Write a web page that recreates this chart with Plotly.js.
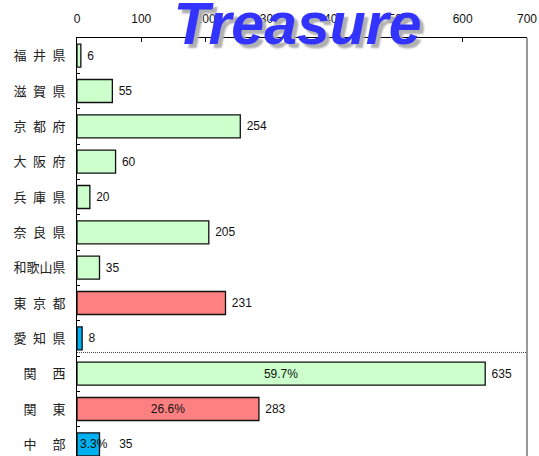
<!DOCTYPE html>
<html>
<head>
<meta charset="utf-8">
<script src="https://cdn.plot.ly/plotly-3.0.1.min.js"></script>
<style>
html,body{margin:0;padding:0;overflow:hidden;background:#fff;}
#chart{width:539px;height:470px;}
</style>
</head>
<body>
<div id="chart"></div>
<script>
const categories = ["福\u2002井\u2002県","滋\u2002賀\u2002県","京\u2002都\u2002府","大\u2002阪\u2002府","兵\u2002庫\u2002県","奈\u2002良\u2002県","和歌山県","東\u2002京\u2002都","愛\u2002知\u2002県","関 　西","関 　東","中 　部"];
const values = [6,55,254,60,20,205,35,231,8,635,283,35];
const groups = ["kansai","kansai","kansai","kansai","kansai","kansai","kansai","kanto","chubu","kansai","kanto","chubu"];
const shares = ["","","","","","","","","","59.7%","26.6%","3.3%"];
const shareAnchor = ["","","","","","","","","","middle","middle","start"];
const xTicks = [0,100,200,300,400,500,600,700];

const colorMap = {kansai:"#ccffcc", kanto:"#ff8080", chubu:"#00b0f0"};
const colors = groups.map(g => colorMap[g]);
// value labels: leave room after a share label that spills out of a short bar
const valueText = values.map((v,i) => (shareAnchor[i] === "start" ? "\u00a0".repeat(5) : "\u00a0") + v);

const traces = [
  {
    type:"bar", orientation:"h",
    x: values, y: categories,
    marker:{color:colors, line:{color:"#111", width:1.3}},
    text: valueText, texttemplate:"%{text}", textposition:"outside", cliponaxis:false,
    textfont:{family:"Liberation Sans, Arial, sans-serif", size:12, color:"#111"},
    hoverinfo:"x+y"
  }
];
["middle","start"].forEach(anchor => {
  traces.push({
    type:"bar", orientation:"h",
    x: values, y: categories,
    marker:{color:"rgba(0,0,0,0)", line:{width:0}},
    text: shares.map((s,i) => shareAnchor[i] === anchor ? s : ""),
    textposition:"inside", insidetextanchor:anchor,
    constraintext:"none", textangle:0, cliponaxis:false,
    textfont:{family:"Liberation Sans, Arial, sans-serif", size:12, color:"#111"},
    hoverinfo:"skip"
  });
});

const layout = {
  width:539, height:470,
  margin:{l:77, r:12, t:38, b:8},
  paper_bgcolor:"#fff", plot_bgcolor:"#fff",
  showlegend:false,
  barmode:"overlay",
  bargap:0.35,
  title:{
    text:"<b><i>Treasure</i></b>",
    font:{family:"Liberation Sans, Arial, sans-serif", size:59, color:"#3333ff", shadow:"4px 4px 2px #b0b0b0"},
    xref:"paper", x:0.49, xanchor:"center",
    yref:"container", y:0.95, yanchor:"middle"
  },
  xaxis:{
    side:"top", range:[0,700], tickvals:xTicks, ticktext:xTicks.map(String),
    showgrid:false, zeroline:false,
    showline:true, linecolor:"#000", linewidth:1,
    ticks:"inside", ticklen:4, tickcolor:"#000",
    ticklabelstandoff:9,
    tickfont:{family:"Liberation Sans, Arial, sans-serif", size:12, color:"#111"},
    fixedrange:true
  },
  yaxis:{
    type:"category", autorange:"reversed",
    showgrid:false, zeroline:false,
    showline:true, linecolor:"#000", linewidth:1,
    ticks:"inside", ticklen:3, tickcolor:"#000", tickson:"boundaries",
    ticklabelstandoff:8,
    tickfont:{family:"Noto Sans CJK JP, sans-serif", size:13, color:"#222"},
    fixedrange:true
  },
  shapes:[
    {type:"line", xref:"paper", yref:"y", x0:0, x1:1, y0:8.4, y1:8.4,
     line:{color:"#444", width:1, dash:"1px,1px"}},
    {type:"line", xref:"paper", yref:"paper", x0:1, x1:1, y0:0, y1:1,
     line:{color:"#999", width:2}}
  ]
};

Plotly.newPlot("chart", traces, layout, {displayModeBar:false, staticPlot:true});
</script>
</body>
</html>
